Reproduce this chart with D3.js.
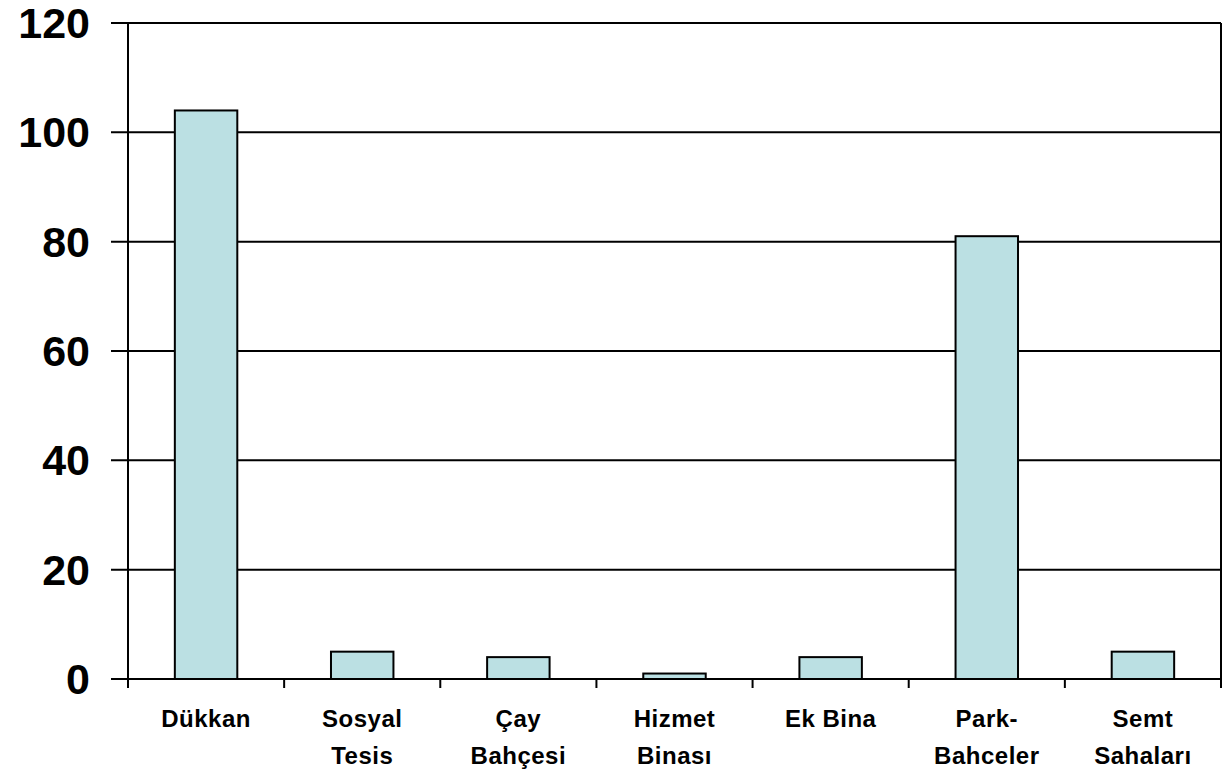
<!DOCTYPE html>
<html>
<head>
<meta charset="utf-8">
<title>Bar chart</title>
<script src="https://d3js.org/d3.v7.min.js"></script>
<style>
  body { margin: 0; background: #fff; }
  svg { display: block; font-family: "Liberation Sans", Arial, sans-serif; font-weight: bold; }
</style>
</head>
<body>
<svg id="chart" width="1230" height="770"></svg>
<script>
// data
const categories = [["Dükkan"], ["Sosyal", "Tesis"], ["Çay", "Bahçesi"], ["Hizmet", "Binası"], ["Ek Bina"], ["Park-", "Bahceler"], ["Semt", "Sahaları"]];
const values = [104, 5, 4, 1, 4, 81, 5];
const yTicks = [0, 20, 40, 60, 80, 100, 120];

const plotL = 128, plotR = 1221, plotT = 23, plotB = 679;
const svg = d3.select("#chart");

const x = d3.scaleBand().domain(d3.range(categories.length)).range([plotL, plotR]);
const y = d3.scaleLinear().domain([0, 120]).range([plotB, plotT]);
const barW = x.bandwidth() * 0.4;

// gridlines
svg.append("g").selectAll("line").data(yTicks).join("line")
  .attr("x1", plotL - 17).attr("x2", plotR)
  .attr("y1", d => y(d)).attr("y2", d => y(d))
  .attr("stroke", "#000").attr("stroke-width", 2);

// bars
svg.append("g").selectAll("rect").data(values).join("rect")
  .attr("x", (d, i) => x(i) + (x.bandwidth() - barW) / 2)
  .attr("width", barW)
  .attr("y", d => y(d))
  .attr("height", d => y(0) - y(d))
  .attr("fill", "#BBE0E3")
  .attr("stroke", "#000").attr("stroke-width", 2);

// left axis + right border
svg.append("line").attr("x1", plotL).attr("x2", plotL).attr("y1", plotT).attr("y2", plotB + 9)
  .attr("stroke", "#000").attr("stroke-width", 2);
svg.append("line").attr("x1", plotR).attr("x2", plotR).attr("y1", plotT).attr("y2", plotB + 9)
  .attr("stroke", "#000").attr("stroke-width", 2);

// x ticks between categories
svg.append("g").selectAll("line").data(d3.range(1, categories.length)).join("line")
  .attr("x1", i => x(i)).attr("x2", i => x(i))
  .attr("y1", plotB).attr("y2", plotB + 9)
  .attr("stroke", "#000").attr("stroke-width", 2);

// y labels
svg.append("g").selectAll("text").data(yTicks).join("text")
  .attr("x", 90).attr("y", d => y(d) + 15)
  .attr("text-anchor", "end")
  .attr("font-size", 43)
  .text(d => d);

// x labels
const xl = svg.append("g").selectAll("text").data(categories).join("text")
  .attr("text-anchor", "middle")
  .attr("font-size", 24)
  .attr("letter-spacing", 0.5)
  .attr("transform", (d, i) => `translate(${x(i) + x.bandwidth() / 2},727)`);
xl.selectAll("tspan").data(d => d).join("tspan")
  .attr("x", 0).attr("y", (d, j) => j * 37)
  .text(d => d);
</script>
</body>
</html>
